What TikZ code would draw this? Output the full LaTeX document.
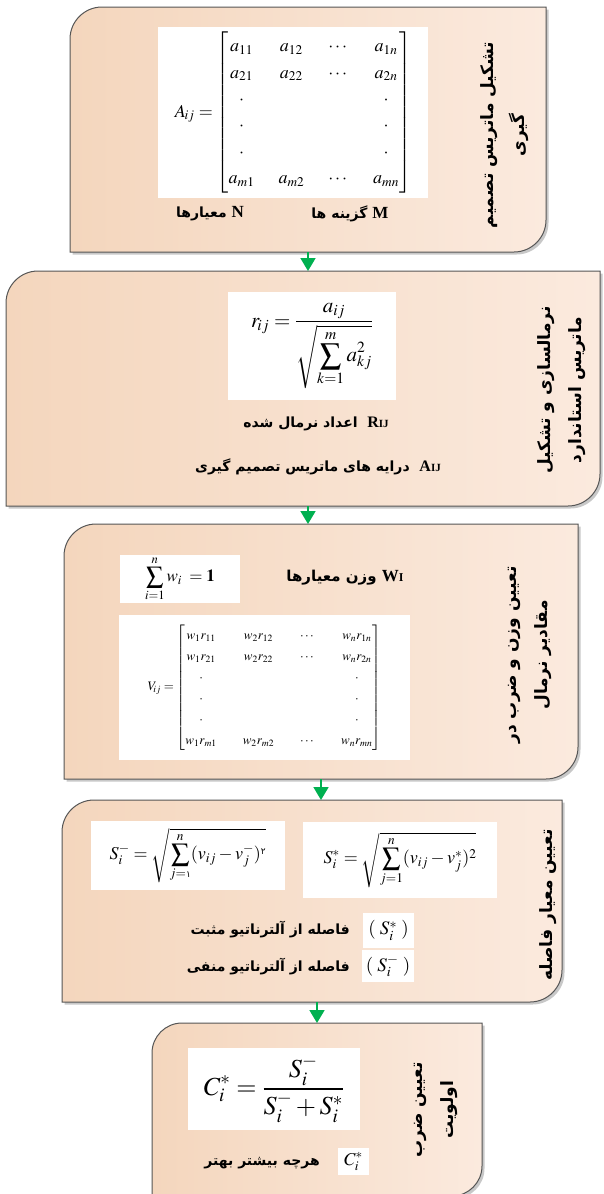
\documentclass[tikz,border=0pt]{standalone}
\usepackage{amsmath}
\usepackage{mathptmx}
\usepackage[no-math]{fontspec}
\setmainfont{Liberation Serif}
\newfontfamily\fa[Script=Arabic]{DejaVu Sans}
\TeXXeTstate=1
\usetikzlibrary{arrows.meta,calc}
\definecolor{peachL}{RGB}{244,214,189}
\definecolor{peachR}{RGB}{251,234,222}
\definecolor{edgec}{RGB}{85,85,85}
\definecolor{shad}{RGB}{200,200,200}
\definecolor{arrgreen}{RGB}{0,176,80}
\newcommand\boxpath[3]{let \p1=(#1.north west), \p2=(#1.south east) in
 ({\x1+#3},{\y1-#2-#3}) .. controls ({\x1+#3},{\y1-0.45*#2-#3}) and ({\x1+0.45*#2+#3},{\y1-#3}) .. ({\x1+#2+#3},{\y1-#3})
 -- ({\x2+#3},{\y1-#3}) -- ({\x2+#3},{\y2+#2-#3})
 .. controls ({\x2+#3},{\y2+0.45*#2-#3}) and ({\x2-0.45*#2+#3},{\y2-#3}) .. ({\x2-#2+#3},{\y2-#3})
 -- ({\x1+#3},{\y2-#3}) -- cycle}
\newcommand\lat[2]{{\rmfamily\fontsize{#1}{#1}\selectfont #2}}
\tikzset{
 boxn/.style={rectangle, inner sep=0pt, outer sep=0pt},
 whitebox/.style={fill=white, inner sep=0pt, outer sep=0pt},
 title/.style={rotate=90, align=center, font=\fa\bfseries\fontsize{17}{31}\selectfont, inner sep=0pt},
 fatext/.style={font=\fa\bfseries\fontsize{14}{17}\selectfont, inner sep=0pt},
 arr/.style={draw=arrgreen, line width=1.8pt, -{Triangle[width=15pt,length=13pt]}},
}
\begin{document}
\begin{tikzpicture}[x=1pt,y=-1pt]
\useasboundingbox (0,0) rectangle (604,1194);
% box frames
\node[boxn, minimum width=476pt, minimum height=245pt] (b1) at (308,129.5) {};
\node[boxn, minimum width=594pt, minimum height=235pt] (b2) at (303,388.5) {};
\node[boxn, minimum width=514pt, minimum height=255pt] (b3) at (321,651.5) {};
\node[boxn, minimum width=500pt, minimum height=202pt] (b4) at (312,901) {};
\node[boxn, minimum width=330pt, minimum height=173pt] (b5) at (317,1109.5) {};
\foreach \b/\r in {b1/32pt,b2/32pt,b3/32pt,b4/32pt,b5/30pt}{
  \fill[shad] \boxpath{\b}{\r}{2.5pt};
  \shade[left color=peachL,right color=peachR] \boxpath{\b}{\r}{0pt};
  \draw[edgec, line width=1pt] \boxpath{\b}{\r}{0pt};
}
% connectors
\draw[arr] (b1.south) -- (b1.south |- b2.north);
\draw[arr] (b1.south |- b2.south) -- (b1.south |- b3.north);
\draw[arr] (b3.south) -- (b3.south |- b4.north);
\draw[arr] (b5.north |- b4.south) -- (b5.north);
% box 1
\node[whitebox, minimum width=270pt, minimum height=171pt] (m1) at (293,112.5)
 {\fontsize{18}{20}\selectfont\renewcommand\arraystretch{1.32}\setlength\arraycolsep{12pt}%
  $A_{\!ij}=\begin{bmatrix} a_{11} & a_{12} & \cdots & a_{1n}\\ a_{21} & a_{22} & \cdots & a_{2n}\\
  \cdot & & & \cdot\\ \cdot & & & \cdot\\ \cdot & & & \cdot\\ a_{m1} & a_{m2} & \cdots & a_{mn}\end{bmatrix}$};
\node[fatext] (l1a) at (210,214) {\beginR\lat{17}{N}\ معیارها\endR};
\node[fatext] (l1b) at (350,214) {\beginR\lat{17}{M}\ گزینه ها\endR};
\node[title] (t1) at (505,135) {\beginR تشکیل ماتریس تصمیم\endR\\ \beginR گیری\endR};
% box 2
\node[whitebox, minimum width=168pt, minimum height=108pt] (m2) at (312,346)
 {\fontsize{21}{24}\selectfont $\displaystyle r_{\!ij}=\frac{a_{ij}}{\sqrt{\displaystyle\sum_{k=1}^{m} a_{kj}^{2}}}$};
\node[fatext] (l2a) at (316,424) {\beginR\beginL{\bfseries\lat{16}{R}\lat{11}{IJ}}\endL\ \ اعداد نرمال شده\endR};
\node[fatext] (l2b) at (318,467) {\beginR\beginL{\bfseries\lat{16}{A}\lat{11}{IJ}}\endL\ \ درایه های ماتریس تصمیم گیری\endR};
\node[title] (t2) at (562,390) {\beginR نرمالسازی و تشکیل\endR\\ \beginR ماتریس استاندارد\endR};
% box 3
\node[whitebox, minimum width=120pt, minimum height=48pt] (m3a) at (180,579)
 {\fontsize{17}{19}\selectfont $\displaystyle \sum_{i=1}^{n} \boldsymbol{w}_{i} \;= \mathbf{1}$};
\node[fatext, font=\fa\bfseries\fontsize{15}{17}\selectfont] (l3) at (345,578) {\beginR\beginL{\bfseries\lat{17}{W}\lat{12}{I}}\endL\ وزن معیارها\endR};
\node[whitebox, minimum width=291pt, minimum height=145pt] (m3b) at (264.5,687.5)
 {\fontsize{13}{14}\selectfont\renewcommand\arraystretch{1.5}\setlength\arraycolsep{13pt}%
  $V_{\!ij}=\begin{bmatrix} w_1r_{11} & w_2r_{12} & \cdots & w_nr_{1n}\\ w_1r_{21} & w_2r_{22} & \cdots & w_nr_{2n}\\
  \cdot & & & \cdot\\ \cdot & & & \cdot\\ \cdot & & & \cdot\\ w_1r_{m1} & w_2r_{m2} & \cdots & w_nr_{mn}\end{bmatrix}$};
\node[title] (t3) at (530,655) {\beginR تعیین وزن و ضرب در\endR\\ \beginR مقادیر نرمال\endR};
% box 4
\node[whitebox, minimum width=194pt, minimum height=69pt] (m4a) at (188,855.5)
 {\fontsize{18}{20}\selectfont $\displaystyle S_i^{-}=\sqrt{\sum_{j=\mbox{\fa\fontsize{9}{10}\selectfont ۱}}^{n}(v_{ij}-v_j^{-})^{\mbox{\fa\fontsize{9}{10}\selectfont ۲}}}$};
\node[whitebox, minimum width=194pt, minimum height=76pt] (m4b) at (400,860)
 {\fontsize{18}{20}\selectfont $\displaystyle S_i^{*}=\sqrt{\sum_{j=1}^{n}(v_{ij}-v_j^{*})^{2}}$};
\node[whitebox, minimum width=51pt, minimum height=35pt] (m4c) at (388.5,930.5)
 {\fontsize{19}{20}\selectfont $(\;S_i^{*}\;)$};
\node[whitebox, minimum width=52pt, minimum height=32pt] (m4d) at (388,966)
 {\fontsize{19}{20}\selectfont $(\;S_i^{-}\;)$};
\node[fatext, anchor=east] (l4a) at (350,930) {\beginR فاصله از آلترناتیو مثبت\endR};
\node[fatext, anchor=east] (l4b) at (350,967) {\beginR فاصله از آلترناتیو منفی\endR};
\node[title] (t4) at (548,905) {\beginR تعیین معیار فاصله\endR};
% box 5
\node[whitebox, minimum width=172pt, minimum height=82pt] (m5) at (274,1089)
 {\fontsize{26}{30}\selectfont $\displaystyle C_i^{*}=\frac{S_i^{-}}{S_i^{-}+S_i^{*}}$};
\node[whitebox, minimum width=31pt, minimum height=27pt] (m5b) at (353.5,1161.5)
 {\fontsize{18}{20}\selectfont $C_i^{*}$};
\node[fatext, anchor=east] (l5) at (320,1163) {\beginR هرچه بیشتر بهتر\endR};
\node[title] (t5) at (436,1110) {\beginR تعیین ضرب\endR\\ \beginR اولویت\endR};
\end{tikzpicture}
\end{document}
